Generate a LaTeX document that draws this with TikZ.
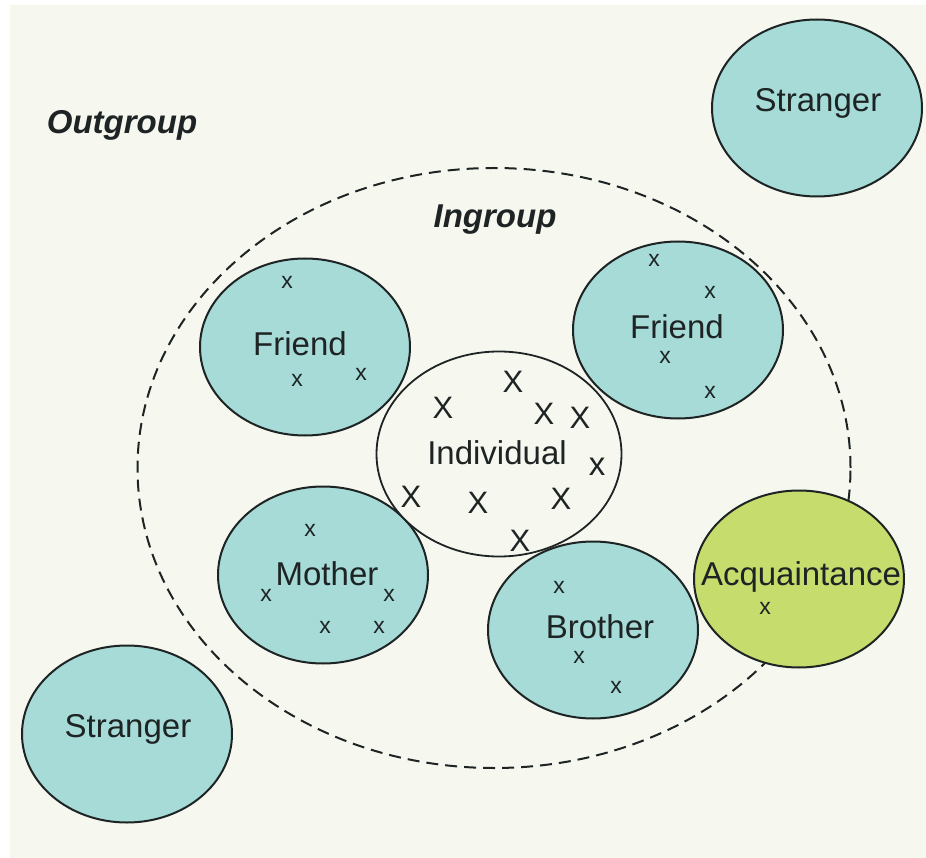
\documentclass[tikz,border=0pt]{standalone}
\usepackage{fontspec}
\setmainfont{Liberation Sans}
\usetikzlibrary{shapes.geometric}
\definecolor{bgcream}{RGB}{246,248,240}
\definecolor{tealfill}{RGB}{166,219,216}
\definecolor{limefill}{RGB}{198,220,108}
\definecolor{inkdark}{RGB}{30,36,36}
\tikzset{
  circ/.style={ellipse, draw=inkdark, line width=2pt, minimum width=210pt, minimum height=177pt, inner sep=0pt},
  tealc/.style={circ, fill=tealfill},
  limec/.style={circ, fill=limefill},
  lbl/.style={text=inkdark, inner sep=0pt, font=\fontsize{33}{38}\selectfont},
  grp/.style={text=inkdark, inner sep=0pt, font=\fontsize{33}{38}\selectfont\bfseries\itshape},
  smallx/.style={text=inkdark, inner sep=0pt, font=\fontsize{23}{26}\selectfont},
  bigx/.style={text=inkdark, inner sep=0pt, font=\fontsize{31}{36}\selectfont},
}
\begin{document}
\begin{tikzpicture}[x=1pt,y=-1pt]
\useasboundingbox (0,0) rectangle (926,858);
\fill[white] (0,0) rectangle (926,858);
\fill[bgcream] (10,5) rectangle (926,858);

% ingroup boundary
\node[ellipse, draw=inkdark, line width=2pt, dash pattern=on 12pt off 7pt,
      minimum width=713pt, minimum height=600pt, inner sep=0pt] (ring) at (494,468) {};

% group labels
\node[grp] (outgroup) at (122,125) {Outgroup};
\node[grp] (ingroup) at (495,220) {Ingroup};

% strangers
\node[tealc] (stra) at (817,108) {};
\node[lbl] (straL) at (818,103) {Stranger};
\node[tealc] (strb) at (127,734) {};
\node[lbl] (strbL) at (128,729) {Stranger};

% friend left
\node[tealc] (fra) at (305,347) {};
\node[lbl] (fraL) at (300,344) {Friend};
\node[smallx] (fax1) at (287,282) {x};
\node[smallx] (fax2) at (297,380) {x};
\node[smallx] (fax3) at (361,374) {x};

% friend right
\node[tealc] (frb) at (678,330) {};
\node[lbl] (frbL) at (677,327) {Friend};
\node[smallx] (fbx1) at (654,260) {x};
\node[smallx] (fbx2) at (710,292) {x};
\node[smallx] (fbx3) at (665,357) {x};
\node[smallx] (fbx4) at (710,392) {x};

% mother
\node[tealc] (mot) at (323,575) {};
\node[lbl] (motL) at (327,574) {Mother};
\node[smallx] (mx1) at (310,530) {x};
\node[smallx] (mx2) at (266,595) {x};
\node[smallx] (mx3) at (389,595) {x};
\node[smallx] (mx4) at (325,627) {x};
\node[smallx] (mx5) at (379,627) {x};

% brother
\node[tealc] (bro) at (593,630) {};
\node[lbl] (broL) at (600,627) {Brother};
\node[smallx] (bx1) at (559,587) {x};
\node[smallx] (bx2) at (579,657) {x};
\node[smallx] (bx3) at (616,687) {x};

% acquaintance
\node[limec] (acq) at (799,579) {};
\node[lbl] (acqL) at (801,577) {Acquaintance};
\node[smallx] (ax1) at (765,608) {x};

% individual
\node[ellipse, draw=inkdark, line width=1.8pt, fill=bgcream,
      minimum width=245pt, minimum height=205pt, inner sep=0pt] (ind) at (499,454) {};
\node[lbl] (indL) at (497,453) {Individual};
\node[bigx] (ix1) at (443,408) {X};
\node[bigx] (ix2) at (513,382) {X};
\node[bigx] (ix3) at (544,414) {X};
\node[bigx] (ix4) at (580,418) {X};
\node[lbl] (ix5) at (597,467) {x};
\node[bigx] (ix6) at (411,497) {X};
\node[bigx] (ix7) at (478,503) {X};
\node[bigx] (ix8) at (561,499) {X};
\node[bigx] (ix9) at (520,541) {X};
\end{tikzpicture}
\end{document}
